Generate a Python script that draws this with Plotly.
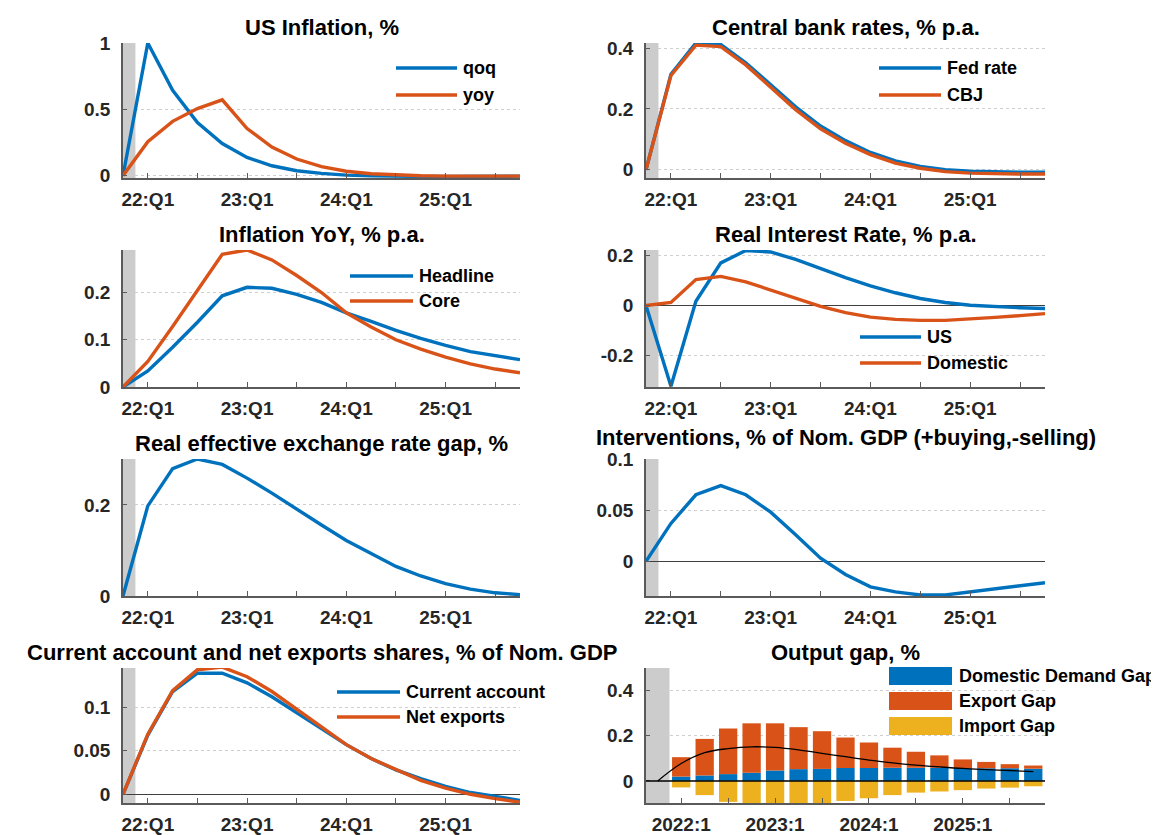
import plotly.graph_objects as go

# ---------------- data ----------------
PERIODS = ["2021Q4", "2022Q1", "2022Q2", "2022Q3", "2022Q4",
           "2023Q1", "2023Q2", "2023Q3", "2023Q4",
           "2024Q1", "2024Q2", "2024Q3", "2024Q4",
           "2025Q1", "2025Q2", "2025Q3", "2025Q4"]
BAR_PERIODS = PERIODS[1:]
TICK_PERIODS = ["2022Q1", "2022Q3", "2023Q1", "2023Q3",
                "2024Q1", "2024Q3", "2025Q1", "2025Q3"]
LINE_TICK_TEXT = ["22:Q1", "", "23:Q1", "", "24:Q1", "", "25:Q1", ""]
BAR_TICK_TEXT = ["2022:1", "", "2023:1", "", "2024:1", "", "2025:1", ""]
HIGHLIGHT_INDEX = 0  # shock period 2021Q4

us_qoq = [0, 1.0, 0.644, 0.40, 0.243, 0.138, 0.075, 0.038, 0.018, 0.005, 0.0,
          -0.004, -0.005, -0.005, -0.004, -0.003, -0.003]
us_yoy = [0, 0.256, 0.41, 0.506, 0.572, 0.356, 0.216, 0.126, 0.069, 0.034, 0.015,
          0.005, 0.0, -0.003, -0.004, -0.004, -0.003]

fed_rate = [0, 0.314, 0.417, 0.412, 0.352, 0.278, 0.207, 0.144, 0.096, 0.057, 0.029,
            0.011, 0.0, -0.005, -0.007, -0.008, -0.008]
cbj_rate = [0, 0.31, 0.41, 0.405, 0.345, 0.27, 0.198, 0.135, 0.087, 0.05, 0.022,
            0.005, -0.006, -0.011, -0.013, -0.014, -0.014]

infl_headline = [0, 0.034, 0.084, 0.137, 0.193, 0.211, 0.209, 0.196, 0.179, 0.157,
                 0.139, 0.12, 0.103, 0.088, 0.075, 0.066, 0.058]
infl_core = [0, 0.054, 0.128, 0.204, 0.281, 0.29, 0.269, 0.236, 0.2, 0.157,
             0.127, 0.1, 0.08, 0.063, 0.049, 0.038, 0.03]

rir_us = [0, -0.325, 0.017, 0.171, 0.221, 0.215, 0.185, 0.148, 0.112, 0.079,
          0.051, 0.028, 0.012, 0.001, -0.005, -0.009, -0.012]
rir_domestic = [0, 0.012, 0.104, 0.117, 0.095, 0.061, 0.028, -0.004, -0.029, -0.047,
                -0.056, -0.06, -0.06, -0.055, -0.048, -0.041, -0.033]

reer_gap = [0, 0.198, 0.28, 0.301, 0.289, 0.259, 0.226, 0.19, 0.156, 0.122,
            0.093, 0.065, 0.044, 0.027, 0.015, 0.007, 0.003]

interventions = [0, 0.037, 0.065, 0.074, 0.065, 0.048, 0.026, 0.003, -0.013, -0.025,
                 -0.030, -0.033, -0.033, -0.030, -0.027, -0.024, -0.021]

current_account = [0, 0.068, 0.118, 0.139, 0.139, 0.128, 0.112, 0.094, 0.076, 0.057,
                   0.041, 0.028, 0.018, 0.009, 0.002, -0.003, -0.007]
net_exports = [0, 0.069, 0.119, 0.143, 0.146, 0.135, 0.118, 0.098, 0.077, 0.057,
               0.041, 0.028, 0.016, 0.007, 0.0, -0.005, -0.009]

domestic_demand_gap = [0.019, 0.024, 0.030, 0.036, 0.046, 0.052, 0.053, 0.057,
                       0.057, 0.058, 0.058, 0.058, 0.056, 0.056, 0.056, 0.054]
export_gap = [0.086, 0.162, 0.202, 0.219, 0.209, 0.186, 0.167, 0.135,
              0.113, 0.089, 0.071, 0.055, 0.039, 0.028, 0.018, 0.014]
import_gap = [-0.029, -0.063, -0.093, -0.104, -0.107, -0.103, -0.101, -0.089,
              -0.077, -0.063, -0.052, -0.047, -0.041, -0.034, -0.030, -0.024]
output_gap = [0, 0.077, 0.125, 0.143, 0.151, 0.148, 0.137, 0.122, 0.107, 0.092,
              0.080, 0.070, 0.062, 0.055, 0.050, 0.046, 0.041]

# ---------------- style / layout ----------------
BLUE, ORANGE, YELLOW = "#0072BD", "#D95319", "#EDB120"
FONT = "Liberation Sans, Arial, sans-serif"
AX = "#5a5a5a"
TICKCOL = "#262626"
GRID = "#cfcfcf"
HIGHLIGHT = "#cccccc"

W, H = 1159, 835
PAGE_OFFSET = 8  # default body margin of the html page
COLS = [(123, 520), (646, 1045)]
ROWS = [(43, 178), (250, 387), (459, 596), (668, 803)]


def fx(p):
    return (p - PAGE_OFFSET) / W


def fy(p):
    return 1 - (p - PAGE_OFFSET) / H


panels = [
    dict(title="US Inflation, %", r=0, c=0, yr=[-0.017, 1.0],
         yt=[0, 0.5, 1], ytt=["0", "0.5", "1"], zero=False,
         series=[("qoq", us_qoq, BLUE), ("yoy", us_yoy, ORANGE)],
         leg=(396, 457, [68, 95])),
    dict(title="Central bank rates, % p.a.", r=0, c=1, yr=[-0.027, 0.417],
         yt=[0, 0.2, 0.4], ytt=["0", "0.2", "0.4"], zero=False,
         series=[("Fed rate", fed_rate, BLUE), ("CBJ", cbj_rate, ORANGE)],
         leg=(879, 941, [68, 95])),
    dict(title="Inflation YoY, % p.a.", r=1, c=0, yr=[0, 0.29],
         yt=[0, 0.1, 0.2], ytt=["0", "0.1", "0.2"], zero=False,
         series=[("Headline", infl_headline, BLUE), ("Core", infl_core, ORANGE)],
         leg=(350, 413, [276, 301])),
    dict(title="Real Interest Rate, % p.a.", r=1, c=1, yr=[-0.328, 0.223],
         yt=[-0.2, 0, 0.2], ytt=["-0.2", "0", "0.2"], zero=True,
         series=[("US", rir_us, BLUE), ("Domestic", rir_domestic, ORANGE)],
         leg=(860, 921, [337, 363])),
    dict(title="Real effective exchange rate gap, %", r=2, c=0, yr=[0, 0.301],
         yt=[0, 0.2], ytt=["0", "0.2"], zero=False,
         series=[("REER gap", reer_gap, BLUE)], leg=None),
    dict(title="Interventions, % of Nom. GDP (+buying,-selling)", r=2, c=1,
         yr=[-0.034, 0.1], yt=[0, 0.05, 0.1], ytt=["0", "0.05", "0.1"], zero=True,
         series=[("Interventions", interventions, BLUE)], leg=None, tdy=-6),
    dict(title="Current account and net exports shares, % of Nom. GDP", r=3, c=0,
         yr=[-0.01, 0.145], yt=[0, 0.05, 0.1], ytt=["0", "0.05", "0.1"], zero=True,
         series=[("Current account", current_account, BLUE),
                 ("Net exports", net_exports, ORANGE)],
         leg=(337, 400, [692, 717])),
    dict(title="Output gap, %", r=3, c=1, yr=[-0.098, 0.5],
         yt=[0, 0.2, 0.4], ytt=["0", "0.2", "0.4"], zero=False, bars=True,
         series=[], leg=None),
]

fig = go.Figure()
layout = dict(
    width=W, height=H, margin=dict(l=0, r=0, t=0, b=0, pad=0, autoexpand=False),
    paper_bgcolor="white", plot_bgcolor="white", showlegend=False,
    barmode="relative", bargap=0.22,
    font=dict(family=FONT, color=TICKCOL),
)
shapes, annotations = [], []

tick_font = dict(family=FONT, size=19, color=TICKCOL, weight="bold")
leg_font = dict(family=FONT, size=18, color="black", weight="bold")
title_font = dict(family=FONT, size=22, color="black", weight="bold")

for n, p in enumerate(panels, start=1):
    xid = "x" if n == 1 else f"x{n}"
    yid = "y" if n == 1 else f"y{n}"
    c0, c1 = COLS[p["c"]]
    r0, r1 = ROWS[p["r"]]
    is_bar = p.get("bars", False)
    xr = [-0.5, len(PERIODS) - 0.5] if is_bar else [0, len(PERIODS) - 1]

    layout[f"xaxis{'' if n == 1 else n}"] = dict(
        domain=[fx(c0), fx(c1)], anchor=yid, type="category",
        categoryorder="array", categoryarray=PERIODS, range=xr,
        tickmode="array", tickvals=TICK_PERIODS,
        ticktext=BAR_TICK_TEXT if is_bar else LINE_TICK_TEXT,
        ticks="inside", ticklen=5, tickwidth=1.3, tickcolor=AX,
        showline=True, linecolor=AX, linewidth=1.5,
        showgrid=False, zeroline=False, tickfont=tick_font,
        ticklabelstandoff=3, automargin=False,
    )
    layout[f"yaxis{'' if n == 1 else n}"] = dict(
        domain=[fy(r1), fy(r0)], anchor=xid, range=p["yr"],
        tickmode="array", tickvals=p["yt"], ticktext=p["ytt"],
        ticks="inside", ticklen=4, tickwidth=1.3, tickcolor=AX,
        showline=True, linecolor=AX, linewidth=1.5,
        showgrid=True, gridcolor=GRID, griddash="dot", gridwidth=1,
        zeroline=p["zero"], zerolinecolor="#404040", zerolinewidth=1.2,
        tickfont=tick_font, ticklabelstandoff=7, automargin=False,
    )

    # highlighted shock period
    shapes.append(dict(type="rect", xref=xid, yref=yid,
                       x0=HIGHLIGHT_INDEX - 0.5, x1=HIGHLIGHT_INDEX + 0.5,
                       y0=p["yr"][0], y1=p["yr"][1],
                       fillcolor=HIGHLIGHT, line=dict(width=0), layer="below"))

    for name, vals, col in p["series"]:
        fig.add_trace(go.Scatter(x=PERIODS, y=vals, mode="lines", name=name,
                                 line=dict(color=col, width=3.4),
                                 xaxis=xid, yaxis=yid))

    if is_bar:
        for name, vals, col in [("Domestic Demand Gap", domestic_demand_gap, BLUE),
                                ("Export Gap", export_gap, ORANGE),
                                ("Import Gap", import_gap, YELLOW)]:
            fig.add_trace(go.Bar(x=BAR_PERIODS, y=vals, name=name,
                                 marker=dict(color=col, line=dict(width=0)),
                                 xaxis=xid, yaxis=yid))
        fig.add_trace(go.Scatter(x=PERIODS, y=output_gap, mode="lines",
                                 name="Output gap",
                                 line=dict(color="black", width=1.3, shape="spline"),
                                 xaxis=xid, yaxis=yid))
        shapes.append(dict(type="line", xref=xid, yref=yid,
                           x0=xr[0], x1=xr[1], y0=0, y1=0,
                           line=dict(color="black", width=1.5), layer="above"))
        # legend (large patches)
        for (name, col), (ya, yb) in zip(
                [("Domestic Demand Gap", BLUE), ("Export Gap", ORANGE),
                 ("Import Gap", YELLOW)],
                [(667, 685), (692, 710), (717, 735)]):
            shapes.append(dict(type="rect", xref="paper", yref="paper",
                               x0=fx(889), x1=fx(952), y0=fy(yb), y1=fy(ya),
                               fillcolor=col, line=dict(width=0)))
            annotations.append(dict(text=name, xref="paper", yref="paper",
                                    x=fx(957), y=fy((ya + yb) / 2),
                                    xanchor="left", yanchor="middle",
                                    showarrow=False, font=leg_font))

    # custom legend for line panels
    if p["leg"] is not None:
        lx0, lx1, lys = p["leg"]
        for (name, _, col), ly in zip(p["series"], lys):
            shapes.append(dict(type="line", xref="paper", yref="paper",
                               x0=fx(lx0), x1=fx(lx1), y0=fy(ly), y1=fy(ly),
                               line=dict(color=col, width=3.5)))
            annotations.append(dict(text=name, xref="paper", yref="paper",
                                    x=fx(lx1 + 4), y=fy(ly),
                                    xanchor="left", yanchor="middle",
                                    showarrow=False, font=leg_font))

    # panel title
    annotations.append(dict(text=p["title"], xref="paper", yref="paper",
                            x=fx((c0 + c1) / 2), y=fy(r0 - 16 + p.get("tdy", 0)),
                            xanchor="center", yanchor="middle",
                            showarrow=False, font=title_font))

layout["shapes"] = shapes
layout["annotations"] = annotations
fig.update_layout(**layout)

fig.write_html("out.html")
